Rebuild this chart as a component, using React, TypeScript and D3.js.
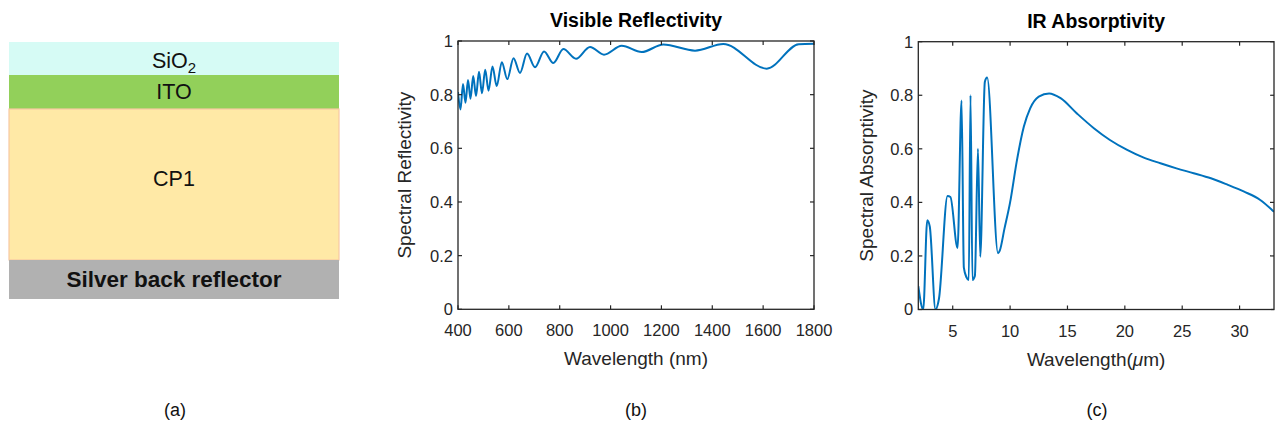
import React from 'react';
import * as d3 from 'd3';

// ---------- data ----------
const layerNames = ['SiO2', 'ITO', 'CP1', 'Silver back reflector'];

const visWavelength = [400, 409.8, 419.7, 429.5, 439.3, 449.2, 459.8, 470.8, 482.6, 494.4, 507, 520, 535.7, 552.2, 572.3, 593.9, 618.3, 643.8, 671.4, 702.9, 738.3, 774.9, 814.3, 864.1, 919.2, 974.2, 1043.8, 1122.5, 1207.5, 1332.1, 1443.5, 1614.1, 1740, 1800];
const visReflectivity = [0.81, 0.745, 0.84, 0.77, 0.855, 0.785, 0.87, 0.795, 0.885, 0.805, 0.893, 0.815, 0.905, 0.832, 0.921, 0.858, 0.936, 0.881, 0.953, 0.902, 0.961, 0.918, 0.97, 0.934, 0.978, 0.949, 0.982, 0.959, 0.987, 0.964, 0.989, 0.897, 0.988, 0.99];

const irWavelength = [2, 2.43, 2.78, 3.0, 3.5, 3.8, 4.55, 4.8, 5.42, 5.77, 5.97, 6.2, 6.4, 6.55, 6.72, 6.93, 7.2, 7.4, 7.8, 8.0, 8.95, 9.1, 9.5, 10.0, 10.6, 11.2, 11.75, 12.5, 13.4, 14.4, 15.8, 17.3, 18.7, 20.2, 21.6, 23.1, 24.5, 26.0, 27.5, 28.9, 30.4, 31.8, 33.0];
const irAbsorptivity = [0.087, 0, 0.333, 0.31, 0, 0.04, 0.424, 0.42, 0.23, 0.78, 0.156, 0.12, 0.11, 0.8, 0.11, 0.125, 0.6, 0.197, 0.85, 0.866, 0.21, 0.22, 0.3, 0.4, 0.558, 0.683, 0.751, 0.795, 0.807, 0.789, 0.733, 0.677, 0.633, 0.596, 0.568, 0.546, 0.527, 0.509, 0.49, 0.467, 0.44, 0.409, 0.365];

const visXTicks = [400, 600, 800, 1000, 1200, 1400, 1600, 1800];
const irXTicks = [5, 10, 15, 20, 25, 30];
const yTicks = [0, 0.2, 0.4, 0.6, 0.8, 1];

const FONT = "'Liberation Sans', Arial, Helvetica, sans-serif";
const AX = '#262626';
const LINE = '#0072BD';

type PlotProps = {
  id: string;
  left: number; right: number; top: number; bottom: number;
  xDomain: [number, number];
  xTicks: number[];
  xs: number[]; ys: number[];
  title: string;
  xLabel: React.ReactNode;
  yLabel: string;
  yLabelX: number;
};

function Plot(p: PlotProps) {
  const x = d3.scaleLinear().domain(p.xDomain).range([p.left, p.right]);
  const y = d3.scaleLinear().domain([0, 1]).range([p.bottom, p.top]);
  const line = d3.line<number>()
    .x((_, i) => x(p.xs[i]))
    .y((d) => y(d))
    .curve(d3.curveMonotoneX);
  const fmt = d3.format('~g');
  const tl = 4;
  const cx = (p.left + p.right) / 2;
  const cy = (p.top + p.bottom) / 2;
  return (
    <g fontFamily={FONT}>
      <defs>
        <clipPath id={p.id}>
          <rect x={p.left} y={p.top} width={p.right - p.left} height={p.bottom - p.top} />
        </clipPath>
      </defs>
      <path d={line(p.ys) || ''} fill="none" stroke={LINE} strokeWidth={2} clipPath={`url(#${p.id})`} strokeLinejoin="round" />
      {p.xTicks.map((t) => (
        <g key={'x' + t}>
          <line x1={x(t)} x2={x(t)} y1={p.bottom} y2={p.bottom - tl} stroke={AX} strokeWidth={1.2} />
          <line x1={x(t)} x2={x(t)} y1={p.top} y2={p.top + tl} stroke={AX} strokeWidth={1.2} />
          <text x={x(t)} y={p.bottom + 27} textAnchor="middle" fontSize={16.5} fill={AX}>{fmt(t)}</text>
        </g>
      ))}
      {yTicks.map((t) => (
        <g key={'y' + t}>
          <line x1={p.left} x2={p.left + tl} y1={y(t)} y2={y(t)} stroke={AX} strokeWidth={1.2} />
          <line x1={p.right} x2={p.right - tl} y1={y(t)} y2={y(t)} stroke={AX} strokeWidth={1.2} />
          <text x={p.left - 5} y={y(t)} dy="0.36em" textAnchor="end" fontSize={16.5} fill={AX}>{fmt(t)}</text>
        </g>
      ))}
      <rect x={p.left} y={p.top} width={p.right - p.left} height={p.bottom - p.top} fill="none" stroke={AX} strokeWidth={1.3} />
      <text x={cx} y={p.top - 14} textAnchor="middle" fontSize={19.5} fontWeight="bold" fill="#000">{p.title}</text>
      <text x={cx} y={p.bottom + 56} textAnchor="middle" fontSize={19} fill={AX}>{p.xLabel}</text>
      <text transform={`translate(${p.yLabelX},${cy}) rotate(-90)`} textAnchor="middle" fontSize={19} fill={AX}>{p.yLabel}</text>
    </g>
  );
}

function Stack() {
  const left = 9, right = 339;
  const bounds = [42, 75, 109, 260, 299];
  const baselines = [67.5, 99, 185.5, 286.5];
  const fills = ['#d6fbf5', '#92d05a', '#ffe9a6', '#b1b1b1'];
  const strokes = ['none', 'none', '#f7c9a3', 'none'];
  const cx = (left + right) / 2;
  return (
    <g fontFamily={FONT}>
      {layerNames.map((n, i) => {
        const y0 = bounds[i], y1 = bounds[i + 1];
        return (
          <g key={n}>
            <rect x={left} y={y0} width={right - left} height={y1 - y0} fill={fills[i]} stroke={strokes[i]} strokeWidth={1.2} />
            {n === 'SiO2' ? (
              <text x={cx} y={baselines[i]} textAnchor="middle" fontSize={21.5} fill="#111">
                SiO<tspan fontSize={15} dy={5}>2</tspan>
              </text>
            ) : (
              <text x={cx} y={baselines[i]} textAnchor="middle" fontSize={i === 3 ? 22.5 : 21.5} fontWeight={i === 3 ? 'bold' : 'normal'} fill="#111">{n}</text>
            )}
          </g>
        );
      })}
    </g>
  );
}

export default function App() {
  return (
    <svg width={1275} height={428} style={{ position: 'absolute', left: 0, top: 0, background: '#fff' }}>
      <rect width={1275} height={428} fill="#fff" />
      <Stack />
      <Plot id="clipB" left={458} right={814} top={41} bottom={309.3} xDomain={[400, 1800]} xTicks={visXTicks}
        xs={visWavelength} ys={visReflectivity} title="Visible Reflectivity" xLabel="Wavelength (nm)"
        yLabel="Spectral Reflectivity" yLabelX={411} />
      <Plot id="clipC" left={918.3} right={1274} top={41.7} bottom={309.5} xDomain={[2, 33]} xTicks={irXTicks}
        xs={irWavelength} ys={irAbsorptivity} title="IR Absorptivity"
        xLabel={<>Wavelength(<tspan fontStyle="italic">μ</tspan>m)</>}
        yLabel="Spectral Absorptivity" yLabelX={873} />
      <g fontFamily={FONT} fontSize={18} fill="#111" textAnchor="middle">
        <text x={175} y={416}>(a)</text>
        <text x={636} y={416}>(b)</text>
        <text x={1097} y={416}>(c)</text>
      </g>
    </svg>
  );
}
